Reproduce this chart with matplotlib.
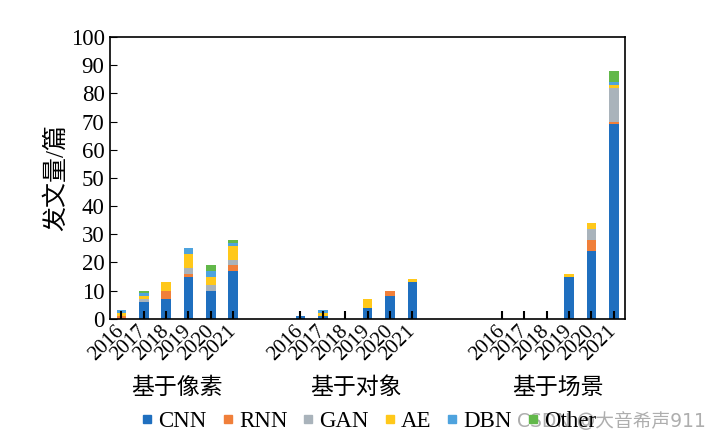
import numpy as np
import matplotlib.pyplot as plt
from matplotlib.lines import Line2D
from matplotlib.transforms import blended_transform_factory

plt.rcParams['font.family'] = ['Liberation Serif', 'Noto Sans CJK SC']

# Data
groups = ['基于像素', '基于对象', '基于场景']
years = ['2016', '2017', '2018', '2019', '2020', '2021']
series = ['CNN', 'RNN', 'GAN', 'AE', 'DBN', 'Other']
colors = ['#1F6FBF', '#F07F3A', '#A9B3BB', '#FFC81A', '#4EA3DE', '#62B84A']

# values per group, 2016..2021
cnn = [0, 6, 7, 15, 10, 17,   1, 1, 0, 4, 8, 13,   0, 0, 0, 15, 24, 69]
rnn = [1, 0, 3, 1, 0, 2,      0, 0, 0, 0, 2, 0,    0, 0, 0, 0, 4, 1]
gan = [0, 1, 0, 2, 2, 2,      0, 0, 0, 0, 0, 0,    0, 0, 0, 0, 4, 12]
ae = [1, 1, 3, 5, 3, 5,       0, 1, 0, 3, 0, 1,    0, 0, 0, 1, 2, 1]
dbn = [1, 1, 0, 2, 2, 1,      0, 1, 0, 0, 0, 0,    0, 0, 0, 0, 0, 1]
other = [0, 1, 0, 0, 2, 1,    0, 0, 0, 0, 0, 0,    0, 0, 0, 0, 0, 4]
group_start = [0, 8, 17]

values = [cnn, rnn, gan, ae, dbn, other]

fig = plt.figure(figsize=(7.2, 4.41), dpi=100)
ax = fig.add_axes([0.153, 0.277, 0.715, 0.639])

# x positions of every bar
pos = []
for g in group_start:
    pos += [g + i for i in range(len(years))]
pos = np.array(pos)

# Stacked bars
bottom = np.zeros(len(pos))
for vals, col in zip(values, colors):
    ax.bar(pos, vals, 0.43, bottom=bottom, color=col, linewidth=0)
    bottom += np.array(vals)

ax.set_xlim(-0.5, 22.5)
ax.set_ylim(0, 100)
ax.set_yticks(range(0, 101, 10))
ax.tick_params(axis='y', direction='in', length=5, labelsize=16.5, pad=4)
ax.set_xticks(pos)
ax.set_xticklabels(years * 3, rotation=45, ha='right', va='center',
                   rotation_mode='anchor')
ax.tick_params(axis='x', direction='in', length=6, width=1.5, labelsize=15, pad=7)
ax.set_ylabel('发文量/篇', fontsize=18, labelpad=2)

for sp in ax.spines.values():
    sp.set_linewidth(1.2)

# Group labels
trans = blended_transform_factory(ax.transData, ax.transAxes)
for g, name in zip(group_start, groups):
    ax.text(g + 2.5, -0.245, name, transform=trans, ha='center', va='center', fontsize=16.5)

# Legend
handles = [Line2D([], [], marker='s', linestyle='none', markersize=5.5,
                  markerfacecolor=c, markeredgecolor=c) for c in colors]
fig.legend(handles, series, loc='center', bbox_to_anchor=(0.51, 0.045), ncol=6,
           frameon=False, fontsize=16.5, handletextpad=0.1, columnspacing=0.5,
           handlelength=0.8)

fig.text(0.98, 0.045, 'CSDN @大音希声911', ha='right', va='center', fontsize=13.5,
         color='#9a9a9a', alpha=0.8, family=['DejaVu Sans', 'Noto Sans CJK SC'])

fig.savefig('out.png', dpi=100)
